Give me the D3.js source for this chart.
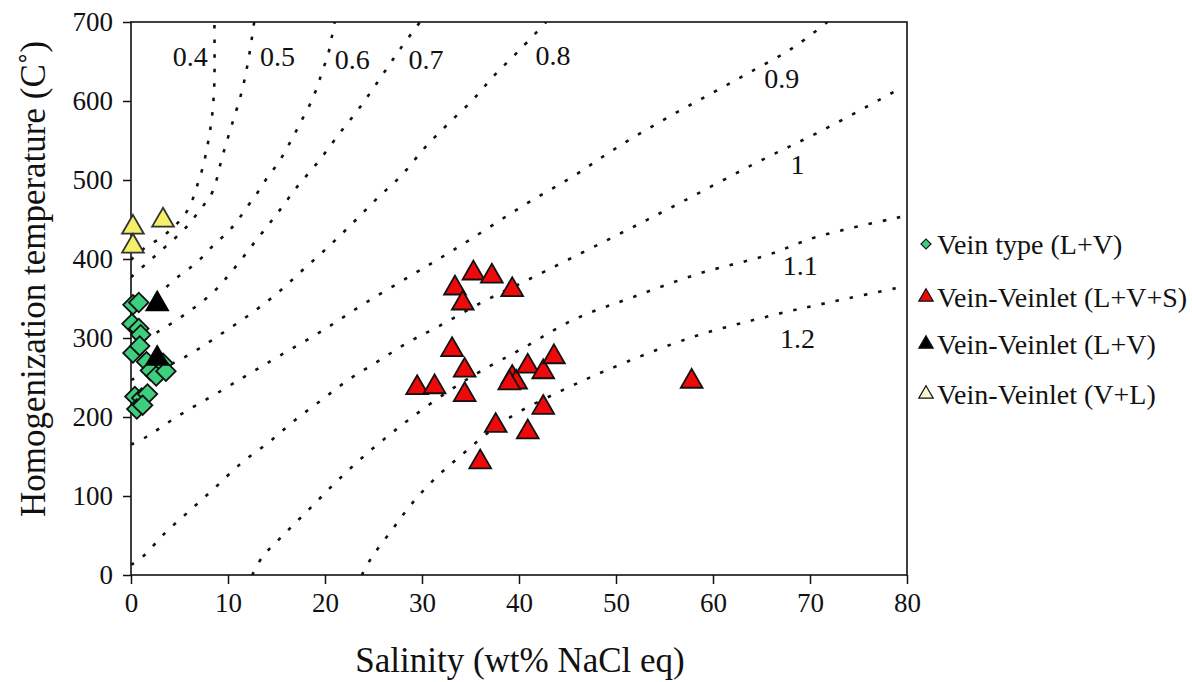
<!DOCTYPE html>
<html>
<head>
<meta charset="utf-8">
<script src="https://cdn.jsdelivr.net/npm/d3@7"></script>
<style>
  body { margin: 0; background: #fff; }
  svg { font-family: "Liberation Serif", "Times New Roman", serif; }
</style>
</head>
<body>
<svg id="chart" width="1192" height="682"></svg>
<script>
// salinity (wt% NaCl) , Th (C)
var veinLV = [
  [0.2, 342], [0.8, 345], [0.1, 318], [0.8, 312], [1.0, 304], [0.2, 281],
  [0.9, 290], [1.6, 270], [2.0, 259], [2.6, 252], [3.3, 268], [3.6, 258],
  [0.4, 226], [1.1, 224], [1.7, 229], [0.6, 210], [1.2, 215]
];
var veinletLVS = [
  [33.4, 363], [35.3, 382], [37.2, 378], [39.3, 361], [34.2, 344], [33.1, 285],
  [34.4, 259], [29.5, 237], [31.3, 238], [34.4, 228], [39.3, 250], [39.7, 244],
  [39.0, 243], [40.9, 264], [42.5, 257], [43.6, 276], [42.5, 212], [37.6, 189],
  [40.9, 181], [36.0, 143], [57.8, 245]
];
var veinletLV = [[2.7, 343], [2.7, 274]];
var veinletVL = [[0.2, 440], [0.2, 416], [3.3, 449]];

// density lines (g/cm3)
var d04 = [[0, 399], [1.4, 414], [3.2, 428], [4.6, 443], [5.6, 457], [6.4, 477],
  [6.9, 496], [7.4, 516], [7.8, 538], [8.1, 559], [8.35, 580], [8.5, 601], [8.6, 627], [8.6, 700]];
var d05 = [[0, 377], [1.75, 396], [3.5, 415], [5.6, 439], [7.1, 462], [8.4, 485],
  [9.4, 529], [10.4, 570], [11.4, 611], [12.1, 652], [12.7, 700]];
var d06 = [[0, 333], [1.1, 342], [2.5, 353], [3.5, 363], [4.7, 376], [6.1, 389],
  [7.4, 403], [8.7, 420], [9.9, 433], [11.0, 449], [12.1, 468], [13.1, 485],
  [14.1, 504], [15.2, 522], [16.1, 541], [16.9, 559], [17.7, 578], [18.5, 597],
  [19.2, 618], [19.7, 637], [20.3, 658], [20.7, 681], [21.0, 700]];
var d07 = [[0, 289], [2.8, 308], [5.8, 332], [8.4, 357], [10.5, 386], [12.8, 422],
  [15.1, 458], [17.1, 491], [19.3, 523], [21.5, 559], [23.6, 592], [25.7, 629],
  [27.7, 665], [29.8, 700]];
var d08 = [[0, 247], [3.3, 262], [6.4, 282], [9.4, 306], [12.5, 332], [15.2, 358],
  [17.7, 386], [20.3, 415], [22.9, 446], [25.4, 477], [27.9, 506], [30.3, 541],
  [32.6, 570], [35.2, 601], [37.5, 633], [40.1, 665], [42.8, 700]];
var d09 = [[0, 165], [1.6, 175], [4.7, 200], [9.4, 234], [12.5, 257], [15.4, 278],
  [19.7, 309], [24.1, 344], [29, 380], [33.2, 411], [40.9, 471], [45.5, 504],
  [49.7, 538], [54.3, 572], [59, 604], [63.6, 635], [68.2, 667], [71.8, 700]];
var d10 = [[0, 13], [1.1, 22], [3.5, 53], [6.1, 82], [8.7, 111], [11.4, 142],
  [14.1, 167], [16.9, 196], [19.7, 222], [22.4, 247], [25.4, 270], [28.5, 294],
  [31.6, 314], [36.3, 346], [40.8, 373], [49.1, 424], [56.6, 471], [64.5, 522],
  [71.3, 563], [79, 614]];
var d11 = [[12.5, 0], [13.5, 22], [15.9, 53], [18.5, 85], [21, 116], [23.6, 146],
  [26.2, 173], [29, 200], [32.9, 234], [36.2, 259], [40.4, 287], [45.6, 323],
  [51.8, 352], [58.7, 382], [65.6, 405], [70.7, 428], [79.3, 453]];
var d12 = [[23.8, 0], [24.8, 22], [26.9, 57], [29, 91], [31.5, 124], [34.1, 152],
  [36.8, 180], [39.8, 205], [44.5, 234], [49, 259], [57.6, 300], [66.2, 329],
  [73.1, 348], [79.6, 365]];

var densityLines = [d04, d05, d06, d07, d08, d09, d10, d11, d12];
var densityLabels = ["0.4", "0.5", "0.6", "0.7", "0.8", "0.9", "1", "1.1", "1.2"];
var labelSal = [6.1, 15.1, 22.8, 30.4, 43.5, 67.1, 68.7, 69.0, 68.7];
var labelTemp = [656, 656, 653, 653, 658, 629, 519, 392, 300];

var xTicks = [0, 10, 20, 30, 40, 50, 60, 70, 80];
var yTicks = [0, 100, 200, 300, 400, 500, 600, 700];

var legendNames = ["Vein type (L+V)", "Vein-Veinlet (L+V+S)", "Vein-Veinlet (L+V)", "Vein-Veinlet (V+L)"];

var svg = d3.select("#chart");
var plotLeft = 131, plotRight = 907, plotTop = 22, plotBottom = 575;

var x = d3.scaleLinear().domain([0, 80]).range([plotLeft, plotRight]);
var y = d3.scaleLinear().domain([0, 700]).range([plotBottom, plotTop]);

svg.append("defs").append("clipPath").attr("id", "plotclip")
  .append("rect")
  .attr("x", plotLeft).attr("y", plotTop)
  .attr("width", plotRight - plotLeft).attr("height", plotBottom - plotTop);

// dotted density lines
var line = d3.line()
  .x(function (d) { return x(d[0]); })
  .y(function (d) { return y(d[1]); })
  .curve(d3.curveCatmullRom);

svg.append("g")
  .attr("clip-path", "url(#plotclip)")
  .selectAll("path")
  .data(densityLines)
  .enter()
  .append("path")
  .attr("d", line)
  .attr("fill", "none")
  .attr("stroke", "#111")
  .attr("stroke-width", 2.6)
  .attr("stroke-dasharray", "3.5,11");

svg.append("g")
  .selectAll("text")
  .data(densityLabels)
  .enter()
  .append("text")
  .attr("x", function (d, i) { return x(labelSal[i]); })
  .attr("y", function (d, i) { return y(labelTemp[i]); })
  .attr("text-anchor", "middle")
  .attr("dominant-baseline", "central")
  .attr("font-size", "28px")
  .attr("fill", "#111")
  .text(function (d) { return d; });

// axes
var xAxis = svg.append("g")
  .attr("transform", "translate(0," + plotBottom + ")")
  .call(d3.axisBottom(x).tickValues(xTicks).tickSize(9).tickPadding(9));
var yAxis = svg.append("g")
  .attr("transform", "translate(" + plotLeft + ",0)")
  .call(d3.axisLeft(y).tickValues(yTicks).tickSize(8).tickPadding(10));

[xAxis, yAxis].forEach(function (a) {
  a.select(".domain").remove();
  a.selectAll("line").attr("stroke", "#111").attr("stroke-width", 1.5);
  a.selectAll("text")
    .attr("font-family", "Liberation Serif, Times New Roman, serif")
    .attr("font-size", "27px")
    .attr("fill", "#111");
});

svg.append("rect")
  .attr("x", plotLeft).attr("y", plotTop)
  .attr("width", plotRight - plotLeft).attr("height", plotBottom - plotTop)
  .attr("fill", "none")
  .attr("stroke", "#111")
  .attr("stroke-width", 1.6);

// points
var diamond = d3.symbol().type(d3.symbolSquare).size(190);
var tri = d3.symbol().type(d3.symbolTriangle).size(205);

svg.append("g")
  .selectAll("path")
  .data(veinLV)
  .enter()
  .append("path")
  .attr("d", diamond)
  .attr("transform", function (d) { return "translate(" + x(d[0]) + "," + y(d[1]) + ") rotate(45)"; })
  .attr("fill", "#3dcf7e")
  .attr("stroke", "#111")
  .attr("stroke-width", 1.8);

function drawTriangles(data, fill, stroke) {
  svg.append("g")
    .selectAll("path")
    .data(data)
    .enter()
    .append("path")
    .attr("d", tri)
    .attr("transform", function (d) { return "translate(" + x(d[0]) + "," + y(d[1]) + ")"; })
    .attr("fill", fill)
    .attr("stroke", stroke)
    .attr("stroke-width", 1.8);
}
drawTriangles(veinletVL, "#f6ef6c", "#333");
drawTriangles(veinletLVS, "#ee0a0a", "#111");
drawTriangles(veinletLV, "#000", "#000");

// axis titles
svg.append("text")
  .attr("text-anchor", "middle")
  .attr("transform", "translate(45,279) rotate(-90)")
  .attr("font-size", "35px")
  .attr("fill", "#111")
  .text("Homogenization temperature (C\u02DA)");

svg.append("text")
  .attr("text-anchor", "middle")
  .attr("x", 520)
  .attr("y", 672)
  .attr("font-size", "35px")
  .attr("fill", "#111")
  .text("Salinity (wt% NaCl eq)");

// legend
var legendY = [244, 297, 344, 394];
var legendFill = ["#3dcf7e", "#ee0a0a", "#000", "#fafac8"];
var lg = svg.append("g");
legendNames.forEach(function (name, i) {
  var sym = i == 0
    ? d3.symbol().type(d3.symbolSquare).size(50)
    : d3.symbol().type(d3.symbolTriangle).size(90);
  lg.append("path")
    .attr("d", sym)
    .attr("transform", "translate(926," + legendY[i] + ")" + (i == 0 ? " rotate(45)" : ""))
    .attr("fill", legendFill[i])
    .attr("stroke", "#111")
    .attr("stroke-width", 1.2);
  lg.append("text")
    .attr("x", 937)
    .attr("y", legendY[i])
    .attr("dominant-baseline", "central")
    .attr("font-size", "28px")
    .attr("fill", "#111")
    .text(name);
});
</script>
</body>
</html>
